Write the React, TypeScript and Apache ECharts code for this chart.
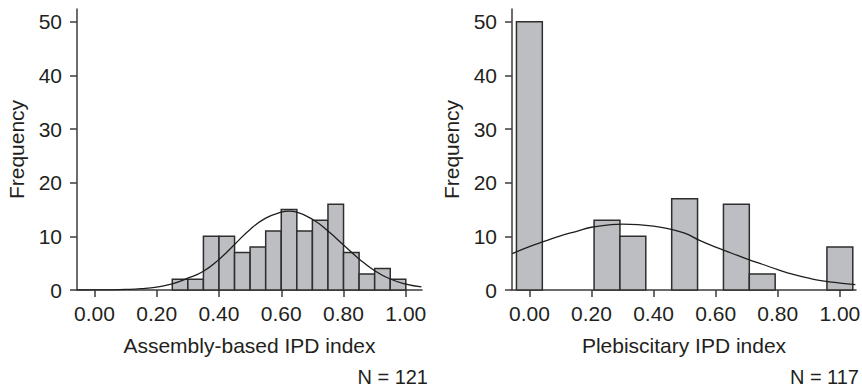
import React, { useEffect, useRef } from "react";
import * as echarts from "echarts";

// ---- Data ----
const xTickValues = [0, 0.2, 0.4, 0.6, 0.8, 1.0];
const yTickValues = [0, 10, 20, 30, 40, 50];

// Left panel: Assembly-based IPD index (bins of width 0.05)
const leftBinStarts = [0.25, 0.3, 0.35, 0.4, 0.45, 0.5, 0.55, 0.6, 0.65, 0.7, 0.75, 0.8, 0.85, 0.9, 0.95];
const leftBinWidth = 0.05;
const leftCounts = [2, 2, 10, 10, 7, 8, 11, 15, 11, 13, 16, 7, 3, 4, 2];
const leftCurveX = [-0.055, 0, 0.05, 0.1, 0.15, 0.2, 0.25, 0.3, 0.35, 0.4, 0.45, 0.5, 0.55, 0.6, 0.625, 0.65, 0.7, 0.75, 0.8, 0.85, 0.9, 0.95, 1.0, 1.05];
const leftCurveY = [0, 0.01, 0.03, 0.1, 0.25, 0.55, 1.15, 2.2, 3.5, 5.7, 8.5, 11.3, 13.4, 14.5, 14.7, 14.5, 13.2, 11.0, 8.4, 5.8, 3.6, 2.05, 1.1, 0.6];

// Right panel: Plebiscitary IPD index (bins of width 1/12)
const rightBinCenters = [0, 0.25, 0.3333, 0.5, 0.6667, 0.75, 1.0];
const rightBinWidth = 0.0833;
const rightCounts = [50, 13, 10, 17, 16, 3, 8];
const rightCurveX = [-0.055, 0, 0.05, 0.1, 0.15, 0.2, 0.25, 0.3, 0.35, 0.4, 0.45, 0.5, 0.55, 0.6, 0.65, 0.7, 0.75, 0.8, 0.85, 0.9, 0.95, 1.0, 1.05];
const rightCurveY = [6.8, 8.1, 9.1, 10.1, 10.9, 11.7, 12.1, 12.3, 12.2, 11.9, 11.4, 10.6, 9.2, 8.0, 6.9, 5.8, 4.8, 3.8, 2.9, 2.2, 1.65, 1.3, 1.0];

const xNames = ["Assembly-based IPD index", "Plebiscitary IPD index"];
const nLabels = ["N = 121", "N = 117"];

const TEXT = "#231f20";
const AXIS = "#3c3c3c";
const BAR_FILL = "#bdbec1";
const BAR_STROKE = "#2e2e2e";
const FONT = "Liberation Sans, Arial, Helvetica, sans-serif";

export default function App() {
  const ref = useRef<HTMLDivElement>(null);

  useEffect(() => {
    if (!ref.current) return;
    const chart = echarts.init(ref.current, undefined, { renderer: "svg" });

    const leftBins = leftBinStarts.map((s, i) => [s, s + leftBinWidth, leftCounts[i]]);
    const rightBins = rightBinCenters.map((c, i) => [c - rightBinWidth / 2, c + rightBinWidth / 2, rightCounts[i]]);

    const renderBin = (params: any, api: any) => {
      const x0 = api.value(0);
      const x1 = api.value(1);
      const v = api.value(2);
      const p0 = api.coord([x0, v]);
      const p1 = api.coord([x1, 0]);
      return {
        type: "rect",
        shape: { x: p0[0], y: p0[1], width: p1[0] - p0[0], height: p1[1] - p0[1] },
        style: { fill: BAR_FILL, stroke: BAR_STROKE, lineWidth: 1.5 },
      };
    };

    const makeX = (gridIndex: number) => ({
      type: "value",
      gridIndex,
      min: -0.056,
      max: 1.052,
      name: xNames[gridIndex],
      nameLocation: "middle",
      nameGap: 45,
      nameTextStyle: { fontSize: 21, color: TEXT, fontFamily: FONT },
      axisLine: { show: true, onZero: false, lineStyle: { color: AXIS, width: 1.5 } },
      axisTick: { show: true, length: 7, customValues: xTickValues, lineStyle: { color: AXIS, width: 1.5 } },
      axisLabel: {
        customValues: xTickValues,
        formatter: (v: number) => v.toFixed(2),
        fontSize: 21,
        color: TEXT,
        fontFamily: FONT,
        margin: 13,
      },
      splitLine: { show: false },
    });

    const makeY = (gridIndex: number) => ({
      type: "value",
      gridIndex,
      min: 0,
      max: 52.4,
      name: "Frequency",
      nameLocation: "middle",
      nameGap: 50,
      nameTextStyle: { fontSize: 21, color: TEXT, fontFamily: FONT },
      axisLine: { show: true, onZero: false, lineStyle: { color: AXIS, width: 1.5 } },
      axisTick: { show: true, length: 7, customValues: yTickValues, lineStyle: { color: AXIS, width: 1.5 } },
      axisLabel: {
        customValues: yTickValues,
        fontSize: 21,
        color: TEXT,
        fontFamily: FONT,
        margin: 15,
      },
      splitLine: { show: false },
    });

    chart.setOption({
      animation: false,
      backgroundColor: "#ffffff",
      grid: [
        { left: 77, top: 9, width: 345, height: 281, outerBoundsMode: "none", containLabel: false },
        { left: 512, top: 9, width: 344, height: 281, outerBoundsMode: "none", containLabel: false },
      ],
      xAxis: [makeX(0), makeX(1)],
      yAxis: [makeY(0), makeY(1)],
      series: [
        {
          type: "custom",
          xAxisIndex: 0,
          yAxisIndex: 0,
          renderItem: renderBin,
          data: leftBins,
          clip: false,
          z: 2,
        },
        {
          type: "custom",
          xAxisIndex: 1,
          yAxisIndex: 1,
          renderItem: renderBin,
          data: rightBins,
          clip: false,
          z: 2,
        },
        {
          type: "line",
          xAxisIndex: 0,
          yAxisIndex: 0,
          data: leftCurveX.map((x, i) => [x, leftCurveY[i]]),
          smooth: true,
          symbol: "none",
          lineStyle: { color: "#1e1e1e", width: 1.3 },
          z: 3,
        },
        {
          type: "line",
          xAxisIndex: 1,
          yAxisIndex: 1,
          data: rightCurveX.map((x, i) => [x, rightCurveY[i]]),
          smooth: true,
          symbol: "none",
          lineStyle: { color: "#1e1e1e", width: 1.3 },
          z: 3,
        },
      ],
      graphic: [
        {
          type: "text",
          x: 428,
          y: 377,
          style: { text: nLabels[0], fill: TEXT, font: `20px ${FONT}`, textAlign: "right", textVerticalAlign: "middle" },
        },
        {
          type: "text",
          x: 859,
          y: 377,
          style: { text: nLabels[1], fill: TEXT, font: `20px ${FONT}`, textAlign: "right", textVerticalAlign: "middle" },
        },
      ],
    });

    return () => {
      chart.dispose();
    };
  }, []);

  return (
    <div
      ref={ref}
      style={{ position: "absolute", left: 0, top: 0, width: 862, height: 388, background: "#fff" }}
    />
  );
}
